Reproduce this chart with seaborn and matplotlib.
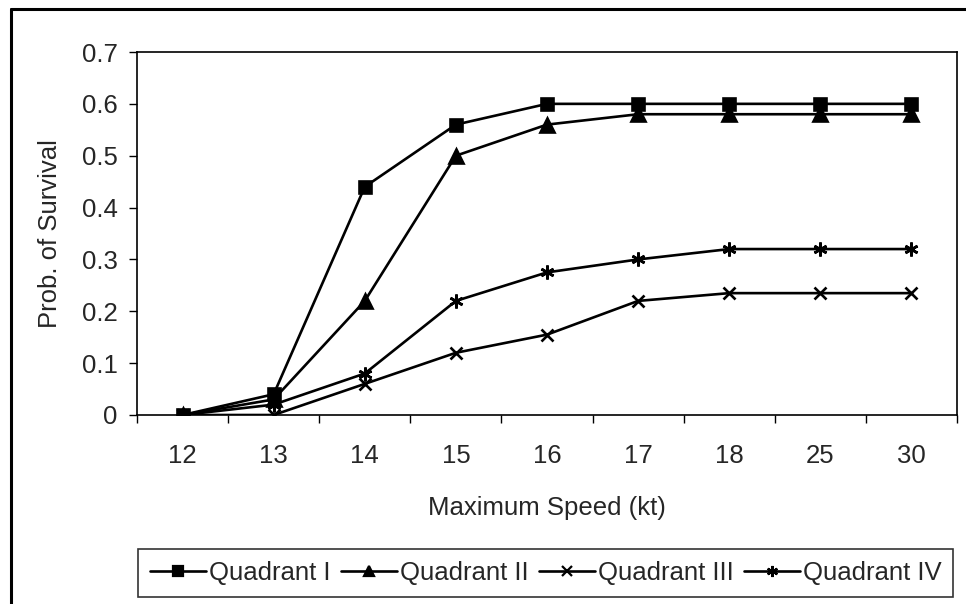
import matplotlib
matplotlib.use("Agg")
import matplotlib.pyplot as plt
from matplotlib.lines import Line2D
from matplotlib.ticker import FixedLocator, NullFormatter, FixedFormatter
import seaborn as sns
import pandas as pd

speeds = ["12", "13", "14", "15", "16", "17", "18", "25", "30"]
quadrant_1 = [0.0, 0.04, 0.44, 0.56, 0.60, 0.60, 0.60, 0.60, 0.60]
quadrant_2 = [0.0, 0.03, 0.22, 0.50, 0.56, 0.58, 0.58, 0.58, 0.58]
quadrant_3 = [0.0, 0.0, 0.06, 0.12, 0.155, 0.22, 0.235, 0.235, 0.235]
quadrant_4 = [0.0, 0.02, 0.08, 0.22, 0.275, 0.30, 0.32, 0.32, 0.32]
series_names = ["Quadrant I", "Quadrant II", "Quadrant III", "Quadrant IV"]
y_ticks = [0, 0.1, 0.2, 0.3, 0.4, 0.5, 0.6, 0.7]
y_tick_labels = ["0", "0.1", "0.2", "0.3", "0.4", "0.5", "0.6", "0.7"]

sns.set_style("white")
plt.rcParams["font.family"] = ["Liberation Sans", "DejaVu Sans"]
FS = 18.5

fig = plt.figure(figsize=(9.66, 6.04), dpi=100)
W, H = 966, 604
ax = fig.add_axes([137 / W, 1 - 415 / H, (957 - 137) / W, (415 - 52) / H])

markers = {"Quadrant I": "s", "Quadrant II": "^", "Quadrant III": "x", "Quadrant IV": (6, 2, 0)}
msizes = {"Quadrant I": 9, "Quadrant II": 9.5, "Quadrant III": 9, "Quadrant IV": 10}
for name, vals in zip(series_names, [quadrant_1, quadrant_2, quadrant_3, quadrant_4]):
    d = pd.DataFrame({"speed": speeds, "value": vals})
    sns.lineplot(data=d, x="speed", y="value", ax=ax, color="black",
                 marker=markers[name], markersize=msizes[name], markeredgewidth=1.9,
                 markeredgecolor="black", markerfacecolor="black",
                 linewidth=1.9, sort=False, legend=False)

n = len(speeds)
ax.set_xlim(-0.5, n - 0.5)
ax.set_ylim(0, 0.7)
ax.xaxis.set_major_locator(FixedLocator([i - 0.5 for i in range(n + 1)]))
ax.xaxis.set_major_formatter(NullFormatter())
ax.xaxis.set_minor_locator(FixedLocator(list(range(n))))
ax.xaxis.set_minor_formatter(FixedFormatter(speeds))
ax.tick_params(axis="x", which="major", direction="out", length=6, width=1, color="black", bottom=True)
ax.tick_params(axis="x", which="minor", length=0, pad=21, labelsize=FS)
ax.set_yticks(y_ticks)
ax.set_yticklabels(y_tick_labels)
ax.tick_params(axis="y", direction="out", length=6, width=1, color="black", left=True, labelsize=FS, pad=8)

for sp in ax.spines.values():
    sp.set_visible(True)
    sp.set_color("black")
    sp.set_linewidth(1.2)

ax.set_xlabel("Maximum Speed (kt)", fontsize=FS, labelpad=20)
ax.set_ylabel("Prob. of Survival", fontsize=FS, labelpad=14)

handles = [Line2D([], [], color="black", linewidth=1.9, marker=markers[nm], markersize=msizes[nm] - 2,
                  markeredgewidth=1.6, markeredgecolor="black", markerfacecolor="black")
           for nm in series_names]
leg = fig.legend(handles, series_names, loc="center",
                 bbox_to_anchor=((138 + 953) / 2 / W, 1 - 573 / H),
                 ncol=4, fontsize=FS, frameon=True, fancybox=False,
                 handlelength=2.2, handletextpad=0.1, columnspacing=0.4,
                 borderpad=0.45, borderaxespad=0)
leg.get_frame().set_edgecolor("black")
leg.get_frame().set_linewidth(1.2)

# outer chart frame (left and top edges visible)
fig.add_artist(Line2D([11 / W, 11 / W], [0, 1 - 9 / H], color="black", linewidth=2.2, transform=fig.transFigure))
fig.add_artist(Line2D([11 / W, 1], [1 - 9 / H, 1 - 9 / H], color="black", linewidth=2.2, transform=fig.transFigure))

fig.savefig("out.png", dpi=100)
